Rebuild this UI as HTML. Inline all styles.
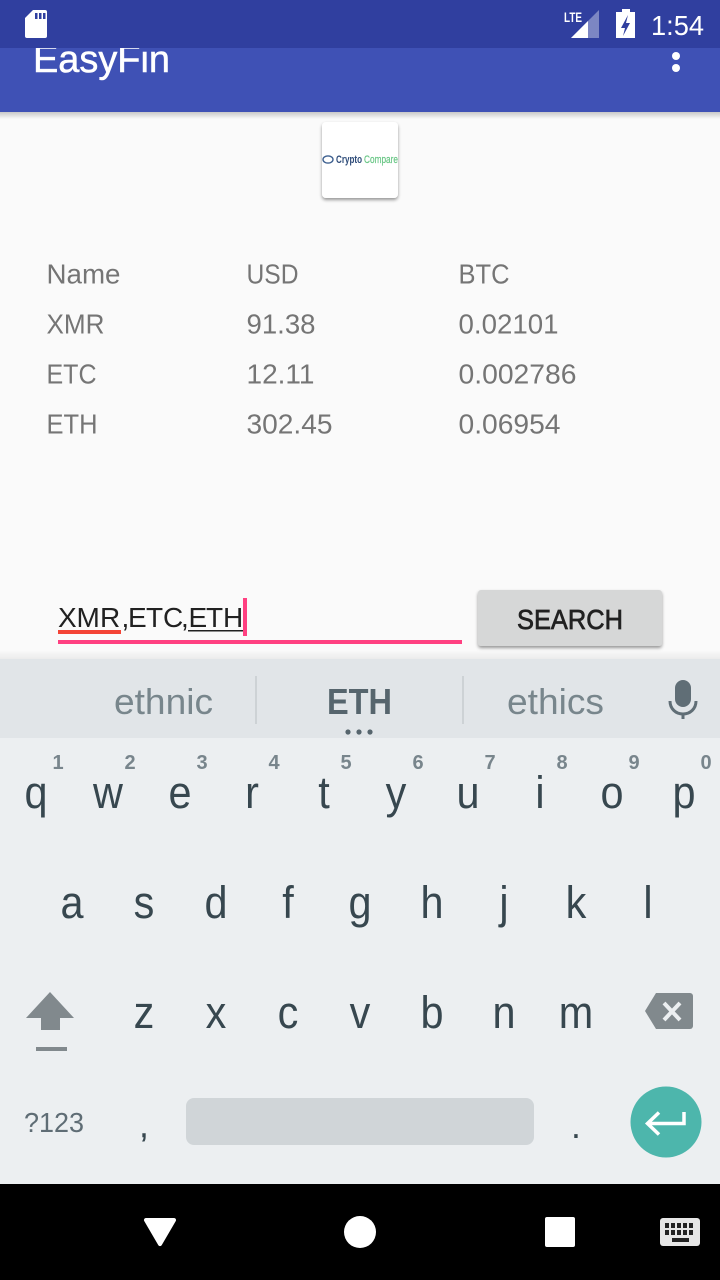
<!DOCTYPE html>
<html lang="en">
<head>
<meta charset="utf-8">
<title>EasyFin</title>
<style>
html,body{margin:0;padding:0;width:720px;height:1280px;overflow:hidden;background:#fafafa}
svg{display:block}
text{font-family:"Liberation Sans",sans-serif}
.cell{font-size:28px;fill:#757575}
.key{font-size:45px;fill:#37474f;text-anchor:middle;transform-box:fill-box;transform-origin:center;transform:scaleX(.92)}
.num{font-size:20px;font-weight:bold;fill:#78858c;text-anchor:middle}
.sug{font-size:36px;fill:#78868c}
</style>
</head>
<body>
<svg width="720" height="1280" viewBox="0 0 720 1280" xmlns="http://www.w3.org/2000/svg">
<defs>
<linearGradient id="sh" x1="0" y1="0" x2="0" y2="1"><stop offset="0" stop-color="#000" stop-opacity=".2"/><stop offset="1" stop-color="#000" stop-opacity="0"/></linearGradient>
<linearGradient id="sh2" x1="0" y1="0" x2="0" y2="1"><stop offset="0" stop-color="#000" stop-opacity="0"/><stop offset="1" stop-color="#000" stop-opacity=".06"/></linearGradient>
<filter id="cardsh" x="-20%" y="-20%" width="140%" height="140%"><feDropShadow dx="0" dy="2" stdDeviation="1.6" flood-color="#000" flood-opacity=".4"/></filter>
</defs>
<rect width="720" height="1280" fill="#fafafa"/>

<g>
<rect y="48" width="720" height="64" fill="#3f51b5"/>
<rect y="112" width="720" height="7" fill="url(#sh)"/>
<text x="33" y="72" font-size="38" fill="#fff" stroke="#fff" stroke-width=".5" textLength="137" lengthAdjust="spacingAndGlyphs">EasyFin</text>
<g fill="#fff"><circle cx="676" cy="56" r="4"/><circle cx="676" cy="68" r="4"/></g>
</g>

<g>
<rect width="720" height="48" fill="#303f9f"/>
<path d="M33 10h12a2 2 0 0 1 2 2v24a2 2 0 0 1-2 2H27a2 2 0 0 1-2-2V18z" fill="#fff"/>
<g fill="#303f9f"><rect x="35" y="13" width="2.5" height="6"/><rect x="39" y="13" width="2.5" height="6"/><rect x="43" y="13" width="2.5" height="6"/></g>
<text x="564" y="22" font-size="14" font-weight="bold" fill="#fff" textLength="18" lengthAdjust="spacingAndGlyphs">LTE</text>
<path d="M599 10v28h-28z" fill="#7c86c3"/>
<path d="M588 21v17h-17z" fill="#fff"/>
<path d="M622 9h8v3h5v26h-19V12h6z" fill="#fff"/>
<path d="M628 15l-7 13h4l-2 8 7-13h-4z" fill="#303f9f"/>
<text x="651" y="35" font-size="28" fill="#fff" textLength="53" lengthAdjust="spacingAndGlyphs">1:54</text>
</g>

<g>
<rect x="322" y="122" width="76" height="76" rx="4" fill="#fff" filter="url(#cardsh)"/>
<ellipse cx="328" cy="159.500" rx="5" ry="3.600" fill="none" stroke="#3f6190" stroke-width="1.400"/>
<text x="336" y="163" font-size="11" font-weight="bold" fill="#2c4a78" textLength="26" lengthAdjust="spacingAndGlyphs">Crypto</text>
<text x="364" y="163" font-size="11" fill="#66c583" stroke="#66c583" stroke-width=".2" textLength="34" lengthAdjust="spacingAndGlyphs">Compare</text>
</g>

<g>
<text class="cell" x="46.500" y="283.500" textLength="74" lengthAdjust="spacingAndGlyphs">Name</text>
<text class="cell" x="246.500" y="283.500" textLength="52" lengthAdjust="spacingAndGlyphs">USD</text>
<text class="cell" x="458.500" y="283.500" textLength="51" lengthAdjust="spacingAndGlyphs">BTC</text>
<text class="cell" x="46.500" y="333.500" textLength="58" lengthAdjust="spacingAndGlyphs">XMR</text>
<text class="cell" x="246.500" y="333.500" textLength="69" lengthAdjust="spacingAndGlyphs">91.38</text>
<text class="cell" x="458.500" y="333.500" textLength="100" lengthAdjust="spacingAndGlyphs">0.02101</text>
<text class="cell" x="46.500" y="383.500" textLength="50" lengthAdjust="spacingAndGlyphs">ETC</text>
<text class="cell" x="246.500" y="383.500" textLength="68" lengthAdjust="spacingAndGlyphs">12.11</text>
<text class="cell" x="458.500" y="383.500" textLength="118" lengthAdjust="spacingAndGlyphs">0.002786</text>
<text class="cell" x="46.500" y="433.500" textLength="51" lengthAdjust="spacingAndGlyphs">ETH</text>
<text class="cell" x="246.500" y="433.500" textLength="86" lengthAdjust="spacingAndGlyphs">302.45</text>
<text class="cell" x="458.500" y="433.500" textLength="102" lengthAdjust="spacingAndGlyphs">0.06954</text>
</g>

<g>
<text x="58 76.500 100 121.500 128 146 163 181 188.500 206 223" y="627" font-size="28" fill="#212121">XMR,ETC,ETH</text>
<rect x="58" y="630" width="63" height="4" fill="#f44336"/>
<rect x="188" y="630" width="55" height="1.500" fill="#212121"/>
<rect x="243" y="598" width="4" height="38" fill="#ff4081"/>
<rect x="58" y="640" width="404" height="4" fill="#ff4081"/>
</g>

<g>
<rect x="478" y="590" width="184" height="56" rx="3" fill="#d6d7d7" filter="url(#cardsh)"/>
<text x="517" y="629" font-size="27.500" fill="#212121" stroke="#212121" stroke-width=".7" textLength="106" lengthAdjust="spacingAndGlyphs">SEARCH</text>
</g>

<rect y="650" width="720" height="9" fill="url(#sh2)"/>

<g>
<rect y="659" width="720" height="525" fill="#eceff1"/>
<rect y="659" width="720" height="79" fill="#e1e5e8"/>
<text class="sug" x="114" y="714" textLength="99" lengthAdjust="spacingAndGlyphs">ethnic</text>
<text class="sug" x="327" y="714" font-weight="bold" style="fill:#56656d" textLength="65" lengthAdjust="spacingAndGlyphs">ETH</text>
<text class="sug" x="507" y="714" textLength="97" lengthAdjust="spacingAndGlyphs">ethics</text>
<rect x="255" y="676" width="2" height="48" fill="#cdd2d5"/>
<rect x="462" y="676" width="2" height="48" fill="#cdd2d5"/>
<g fill="#56656d"><circle cx="348" cy="732" r="2.600"/><circle cx="359" cy="732" r="2.600"/><circle cx="370" cy="732" r="2.600"/></g>
<g>
<rect x="675" y="680" width="16" height="27" rx="8" fill="#606e76"/>
<path d="M670 701c0 8 6 13 13 13s13-5 13-13" fill="none" stroke="#606e76" stroke-width="3"/>
<rect x="681.500" y="713" width="3" height="6" fill="#606e76"/>
</g>

<g>
<text class="num" x="58" y="769">1</text><text class="num" x="130" y="769">2</text><text class="num" x="202" y="769">3</text><text class="num" x="274" y="769">4</text><text class="num" x="346" y="769">5</text><text class="num" x="418" y="769">6</text><text class="num" x="490" y="769">7</text><text class="num" x="562" y="769">8</text><text class="num" x="634" y="769">9</text><text class="num" x="706" y="769">0</text>
</g>
<g>
<text class="key" x="36" y="808">q</text>
<text class="key" x="108" y="808">w</text>
<text class="key" x="180" y="808">e</text>
<text class="key" x="252" y="808">r</text>
<text class="key" x="324" y="808">t</text>
<text class="key" x="396" y="808">y</text>
<text class="key" x="468" y="808">u</text>
<text class="key" x="540" y="808">i</text>
<text class="key" x="612" y="808">o</text>
<text class="key" x="684" y="808">p</text>
</g>
<g>
<text class="key" x="72" y="918">a</text>
<text class="key" x="144" y="918">s</text>
<text class="key" x="216" y="918">d</text>
<text class="key" x="288" y="918">f</text>
<text class="key" x="360" y="918">g</text>
<text class="key" x="432" y="918">h</text>
<text class="key" x="504" y="918">j</text>
<text class="key" x="576" y="918">k</text>
<text class="key" x="648" y="918">l</text>
</g>
<g>
<text class="key" x="144" y="1028">z</text>
<text class="key" x="216" y="1028">x</text>
<text class="key" x="288" y="1028">c</text>
<text class="key" x="360" y="1028">v</text>
<text class="key" x="432" y="1028">b</text>
<text class="key" x="504" y="1028">n</text>
<text class="key" x="576" y="1028">m</text>
</g>
<g>
<path d="M50 992l24 26H60v12H41v-12H26z" fill="#81898d"/>
<rect x="36" y="1047" width="31" height="4" fill="#81898d"/>
</g>
<g>
<path d="M656 993h34a3 3 0 0 1 3 3v30a3 3 0 0 1-3 3h-34l-11-18z" fill="#81898d"/>
<path d="M664 1003l16 17m0-17l-16 17" stroke="#eceff1" stroke-width="4" fill="none"/>
</g>
<text x="24" y="1132" font-size="28" fill="#5f6d75" textLength="60" lengthAdjust="spacingAndGlyphs">?123</text>
<text class="key" x="144" y="1137" style="font-size:32px" stroke="#37474f" stroke-width=".6">,</text>
<rect x="186" y="1098" width="348" height="47" rx="8" fill="#d0d5d8"/>
<text class="key" x="576" y="1138" font-weight="bold" style="font-size:26px">.</text>
<g>
<circle cx="666" cy="1122" r="35.500" fill="#4db6ac"/>
<path d="M684 1112v11.500H649m10-11l-11.500 11 11.500 11" fill="none" stroke="#fff" stroke-width="3.500"/>
</g>
</g>

<g>
<rect y="1184" width="720" height="96" fill="#000"/>
<path d="M146 1218h28a2 2 0 0 1 1.800 3l-14 24a2 2 0 0 1-3.600 0l-14-24a2 2 0 0 1 1.800-3z" fill="#fff"/>
<circle cx="360" cy="1232" r="16" fill="#fff"/>
<rect x="545" y="1217" width="30" height="30" rx="2" fill="#fff"/>
<g>
<rect x="660" y="1218" width="40" height="28" rx="3" fill="#e6e6e6"/>
<g fill="#222">
<rect x="665" y="1223" width="4" height="5"/><rect x="671" y="1223" width="4" height="5"/><rect x="677" y="1223" width="4" height="5"/><rect x="683" y="1223" width="4" height="5"/><rect x="689" y="1223" width="4" height="5"/>
<rect x="665" y="1230" width="4" height="5"/><rect x="671" y="1230" width="4" height="5"/><rect x="677" y="1230" width="4" height="5"/><rect x="683" y="1230" width="4" height="5"/><rect x="689" y="1230" width="4" height="5"/>
<rect x="672" y="1238" width="17" height="4"/>
</g>
</g>
</g>
</svg>
</body>
</html>
